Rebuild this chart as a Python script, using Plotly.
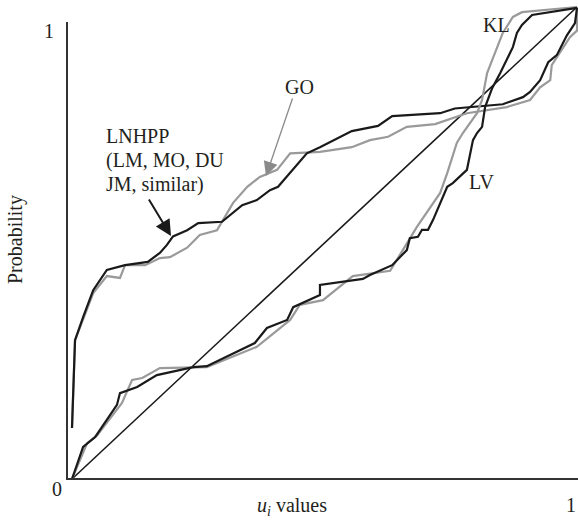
import plotly.graph_objects as go

# ---- data ----
lnhpp_x = [0, 0.006, 0.022, 0.042, 0.069, 0.105, 0.15, 0.174, 0.188, 0.2, 0.228, 0.25, 0.297, 0.337, 0.366,
           0.392, 0.408, 0.432, 0.465, 0.491, 0.554, 0.606, 0.634, 0.729, 0.758, 0.853, 0.893, 0.907, 0.927,
           0.943, 0.96, 0.98, 0.996, 1.0]
lnhpp_y = [0.108, 0.294, 0.343, 0.40, 0.443, 0.453, 0.46, 0.479, 0.496, 0.514, 0.527, 0.542, 0.545, 0.58, 0.591,
           0.612, 0.619, 0.648, 0.69, 0.703, 0.737, 0.748, 0.769, 0.775, 0.785, 0.794, 0.809, 0.82, 0.845,
           0.883, 0.898, 0.94, 0.966, 0.998]

go_x = [0, 0.006, 0.042, 0.069, 0.095, 0.105, 0.145, 0.174, 0.194, 0.228, 0.253, 0.287, 0.319, 0.347, 0.372,
        0.406, 0.432, 0.491, 0.554, 0.59, 0.626, 0.663, 0.719, 0.782, 0.861, 0.907, 0.927, 0.947, 0.95, 0.966,
        0.986, 1.0, 1.0]
go_y = [0.108, 0.294, 0.394, 0.43, 0.426, 0.453, 0.453, 0.468, 0.47, 0.49, 0.517, 0.527, 0.585, 0.619, 0.64,
        0.655, 0.69, 0.693, 0.703, 0.718, 0.725, 0.746, 0.752, 0.775, 0.788, 0.803, 0.83, 0.845, 0.877, 0.902,
        0.936, 0.95, 1.0]

lv_x = [0, 0.022, 0.046, 0.089, 0.095, 0.129, 0.168, 0.24, 0.267, 0.362, 0.386, 0.426, 0.438, 0.491, 0.491,
        0.576, 0.59, 0.634, 0.663, 0.669, 0.685, 0.693, 0.705, 0.715, 0.743, 0.754, 0.782, 0.794, 0.802, 0.812,
        0.818, 0.832, 0.848, 0.861, 0.873, 0.881, 0.891, 0.911, 1.0]
lv_y = [0, 0.068, 0.089, 0.157, 0.182, 0.195, 0.22, 0.237, 0.239, 0.288, 0.32, 0.337, 0.364, 0.39, 0.411,
        0.424, 0.432, 0.453, 0.485, 0.51, 0.513, 0.528, 0.528, 0.549, 0.619, 0.627, 0.655, 0.718, 0.733, 0.746,
        0.788, 0.828, 0.86, 0.888, 0.915, 0.945, 0.962, 0.983, 0.998]

kl_x = [0, 0.03, 0.05, 0.099, 0.119, 0.139, 0.174, 0.267, 0.366, 0.432, 0.451, 0.497, 0.556, 0.63, 0.655,
        0.683, 0.729, 0.743, 0.762, 0.774, 0.802, 0.812, 0.822, 0.834, 0.853, 0.873, 0.891, 1.0]
kl_y = [0, 0.076, 0.093, 0.161, 0.21, 0.214, 0.235, 0.237, 0.28, 0.337, 0.369, 0.379, 0.43, 0.441, 0.485,
        0.534, 0.606, 0.648, 0.712, 0.733, 0.775, 0.803, 0.86, 0.894, 0.945, 0.979, 0.989, 1.0]

diag_x = [0, 1]
diag_y = [0, 1]

x_tick_labels = ["1"]
y_tick_labels = ["0", "1"]
x_title = "<i>u<sub>i</sub></i> values"
y_title = "Probability"
lnhpp_label = ["LNHPP", "(LM, MO, DU", "JM, similar)"]

# ---- layout geometry ----
W, H = 578, 523
ML, MR, MT, MB = 67, 0, 5, 43
X0P, X1P = 72, 577   # pixel of x=0, x=1
Y0P, Y1P = 479, 7    # pixel of y=0, y=1
PW, PH = W - ML - MR, H - MT - MB


def dx(px):
    return (px - X0P) / (X1P - X0P)


def dy(py):
    return (Y0P - py) / (Y0P - Y1P)


def px_(px):
    return (px - ML) / PW


def py_(py):
    return (H - MB - py) / PH


xr = [dx(ML), dx(W - MR)]
yr = [dy(H - MB), dy(MT)]

FONT = "Liberation Serif, Times New Roman, serif"
BLACK = "#1a1a1a"
GRAY = "#9a9a9a"
TXT = "#231f20"

fig = go.Figure()
fig.add_trace(go.Scatter(x=diag_x, y=diag_y, mode="lines", line=dict(color=BLACK, width=1.6), hoverinfo="skip"))
fig.add_trace(go.Scatter(x=go_x, y=go_y, mode="lines", line=dict(color=GRAY, width=2.2), hoverinfo="skip"))
fig.add_trace(go.Scatter(x=lnhpp_x, y=lnhpp_y, mode="lines", line=dict(color=BLACK, width=2.2), hoverinfo="skip"))
fig.add_trace(go.Scatter(x=kl_x, y=kl_y, mode="lines", line=dict(color=GRAY, width=2.2), hoverinfo="skip"))
fig.add_trace(go.Scatter(x=lv_x, y=lv_y, mode="lines", line=dict(color=BLACK, width=2.2), hoverinfo="skip"))

# axis lines
fig.add_shape(type="line", xref="paper", yref="paper", x0=px_(67), x1=px_(67), y0=py_(480), y1=py_(22),
              line=dict(color="#333", width=2))
fig.add_shape(type="line", xref="paper", yref="paper", x0=px_(66), x1=px_(578), y0=py_(479), y1=py_(479),
              line=dict(color="#333", width=2))

ann = []


def text(px, py, t, size=20, xanchor="center", yanchor="middle", align="center", **kw):
    ann.append(dict(xref="paper", yref="paper", x=px_(px), y=py_(py), text=t, showarrow=False,
                    xanchor=xanchor, yanchor=yanchor, align=align,
                    font=dict(family=FONT, size=size, color=TXT), **kw))


text(49, 31, y_tick_labels[1])
text(57, 489, y_tick_labels[0])
text(571, 505, x_tick_labels[0])
text(292, 506, x_title)
text(15, 240, y_title, textangle=-90)
text(299, 87, "GO")
text(496, 25, "KL")
text(481, 182, "LV")
for i, line in enumerate(lnhpp_label):
    text(104, 136 + i * 24, line, xanchor="left")

# arrows
ann.append(dict(x=dx(266), y=dy(176), ax=293 - 266, ay=97 - 176, text="", showarrow=True,
                arrowhead=2, arrowsize=2.2, arrowwidth=1.3, arrowcolor="#8a8a8a"))
ann.append(dict(x=dx(171), y=dy(236), ax=148 - 171, ay=198 - 236, text="", showarrow=True,
                arrowhead=2, arrowsize=1.6, arrowwidth=2, arrowcolor=BLACK))

fig.update_layout(
    width=W, height=H, margin=dict(l=ML, r=MR, t=MT, b=MB),
    paper_bgcolor="white", plot_bgcolor="white", showlegend=False,
    xaxis=dict(range=xr, visible=False, fixedrange=True),
    yaxis=dict(range=yr, visible=False, fixedrange=True),
    annotations=ann,
)
fig.write_html("out.html", config={"displayModeBar": False},
               post_script="document.body.style.margin='0';document.body.style.overflow='hidden';")
